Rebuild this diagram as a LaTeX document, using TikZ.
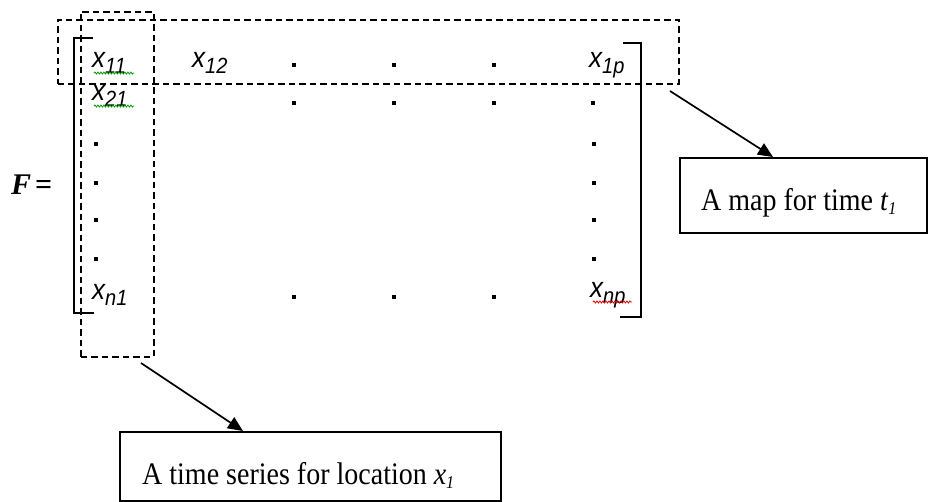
\documentclass[tikz,border=0pt]{standalone}
\usepackage{fontspec}
\setmainfont{Liberation Serif}
\newfontfamily\arialfont{Liberation Sans}
\usetikzlibrary{arrows.meta,decorations.pathmorphing}
\newcommand\ent[2]{{\arialfont\itshape\fontsize{26}{26}\selectfont #1\raisebox{-6pt}{\fontsize{20}{20}\selectfont #2}}}
\tikzset{
  entry/.style={anchor=base west, inner sep=0pt},
  mdot/.style={fill=black, draw=none, minimum size=3.6pt, inner sep=0pt},
  dashbox/.style={draw, line width=1.7pt, dash pattern=on 6.5pt off 4pt, minimum width=#1, inner sep=0pt, anchor=north west},
  bracket/.style={line width=2.6pt},
  note/.style={draw, line width=1.5pt, inner sep=0pt, anchor=north west},
  notetext/.style={anchor=base west, inner sep=0pt, font=\fontsize{28}{28}\selectfont},
  pointer/.style={line width=1.7pt, -{Triangle[length=15pt,width=13pt]}},
  wavy/.style={decorate, decoration={snake, amplitude=1pt, segment length=3pt}, line width=0.8pt}
}
\begin{document}
\begin{tikzpicture}[x=1pt,y=-1pt]
\useasboundingbox (0,0) rectangle (928,501);
% F =
\node[entry] (F) at (11,194) {\fontsize{30}{30}\selectfont\textbf{\textit{F}}\kern4pt\textbf{=}};
% brackets
\draw[bracket] (93,38) -- (74,38) -- (74,313) -- (94,313);
\draw[bracket] (623,43) -- (641,43) -- (641,317) -- (620,317);
% entries
\node[entry] (x11) at (92,67) {\scalebox{1}[1.1]{\ent{x}{11}}};
\node[entry] (x12) at (192,67) {\scalebox{1}[1.1]{\ent{x}{12}}};
\node[entry] (x1p) at (589,67) {\scalebox{1}[1.1]{\ent{x}{1p}}};
\node[entry] (x21) at (92,100) {\scalebox{1}[1.1]{\ent{x}{21}}};
\node[entry] (xn1) at (92,299) {\scalebox{1}[1.1]{\ent{x}{n1}}};
\node[entry] (xnp) at (590,297) {\scalebox{1}[1.1]{\ent{x}{np}}};
% dots
\foreach \px in {294,394,494} {
  \node[mdot] at (\px,65) {};
  \node[mdot] at (\px,103) {};
  \node[mdot] at (\px,297) {};
}
\node[mdot] at (593,103) {};
\foreach \py in {144,183,220,259} {
  \node[mdot] at (96,\py) {};
  \node[mdot] at (594,\py) {};
}
% spell-check underlines
\draw[wavy, green!60!black] (94,73) -- (134,73);
\draw[wavy, green!60!black] (94,106) -- (134,106);
\draw[wavy, red!85!black] (593,302) -- (632,302);
% dashed boxes
\node[dashbox=621pt, minimum height=64pt] (rowbox) at (57,19) {};
\node[dashbox=73pt, minimum height=345pt] (colbox) at (80,11) {};
% note boxes
\node[note, minimum width=247pt, minimum height=75pt] (mapbox) at (679,157) {};
\node[notetext] (maptext) at (701,210) {\scalebox{1}[1.12]{A map for time \textit{t}\raisebox{-4pt}{\fontsize{16}{16}\selectfont\textit{1}}}};
\node[note, minimum width=381pt, minimum height=69pt] (tsbox) at (119,431) {};
\node[notetext] (tstext) at (142,484) {\scalebox{1}[1.12]{A time series for location \textit{x}\raisebox{-4pt}{\fontsize{16}{16}\selectfont\textit{1}}}};
% arrows
\coordinate (rowout) at (670,91);
\coordinate (mapin) at (773,157);
\coordinate (colout) at (141,363);
\coordinate (tsin) at (243,431);
\draw[pointer] (rowout) -- (mapin);
\draw[pointer] (colout) -- (tsin);
\end{tikzpicture}
\end{document}
